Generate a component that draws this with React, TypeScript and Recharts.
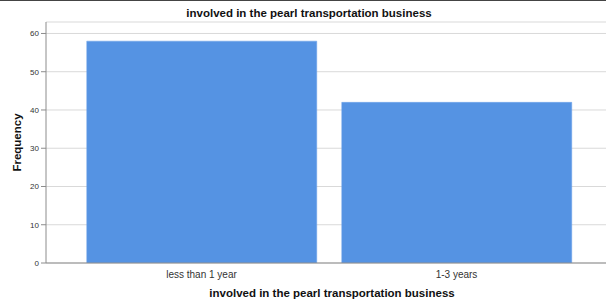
import React from "react";
import { BarChart, Bar, XAxis, YAxis, CartesianGrid } from "recharts";

const categories = ["less than 1 year", "1-3 years"];
const frequencies = [58, 42];
const yTicks = [0, 10, 20, 30, 40, 50, 60];
const title = "involved in the pearl transportation business";

const data = categories.map((c, i) => ({ name: c, value: frequencies[i] }));

const font = "'Liberation Sans', Arial, sans-serif";

export default function App() {
  return (
    <div style={{ position: "absolute", left: 0, top: 0, width: 606, height: 299, background: "#fff", fontFamily: font, overflow: "hidden" }}>
      <div style={{ position: "absolute", left: 0, top: 0, width: 606, height: 1, background: "#444" }} />
      <div style={{ position: "absolute", left: 0, width: 618, top: 7, textAlign: "center", fontWeight: "bold", fontSize: 11.5, color: "#111" }}>{title}</div>
      <BarChart width={612} height={299} data={data} margin={{ top: 22, right: 0, bottom: 0, left: 0 }} barCategoryGap="5%">
        <CartesianGrid vertical={false} stroke="#d9d9d9" strokeWidth={1} />
        <XAxis
          dataKey="name"
          height={36}
          padding={{ left: 28, right: 28 }}
          axisLine={{ stroke: "#8c8c8c" }}
          tickLine={false}
          tick={{ fontSize: 10, fill: "#333", fontFamily: font }}
          tickMargin={2}
          label={{ value: title, position: "insideBottom", offset: 2, dx: 3, style: { fontSize: 11.5, fontWeight: "bold", fill: "#111", fontFamily: font } }}
        />
        <YAxis
          width={46}
          domain={[0, 63]}
          ticks={yTicks}
          allowDataOverflow
          axisLine={{ stroke: "#8c8c8c" }}
          tickLine={{ stroke: "#8c8c8c" }}
          tickSize={5}
          tickMargin={2}
          tick={{ fontSize: 8, fill: "#333", fontFamily: font }}
          label={{ value: "Frequency", angle: -90, position: "insideLeft", offset: 17, style: { fontSize: 11.5, fontWeight: "bold", fill: "#111", fontFamily: font, textAnchor: "middle" } }}
        />
        <Bar dataKey="value" fill="#5593e3" stroke="#6fa3e8" strokeWidth={0.5} isAnimationActive={false} />
      </BarChart>
    </div>
  );
}
